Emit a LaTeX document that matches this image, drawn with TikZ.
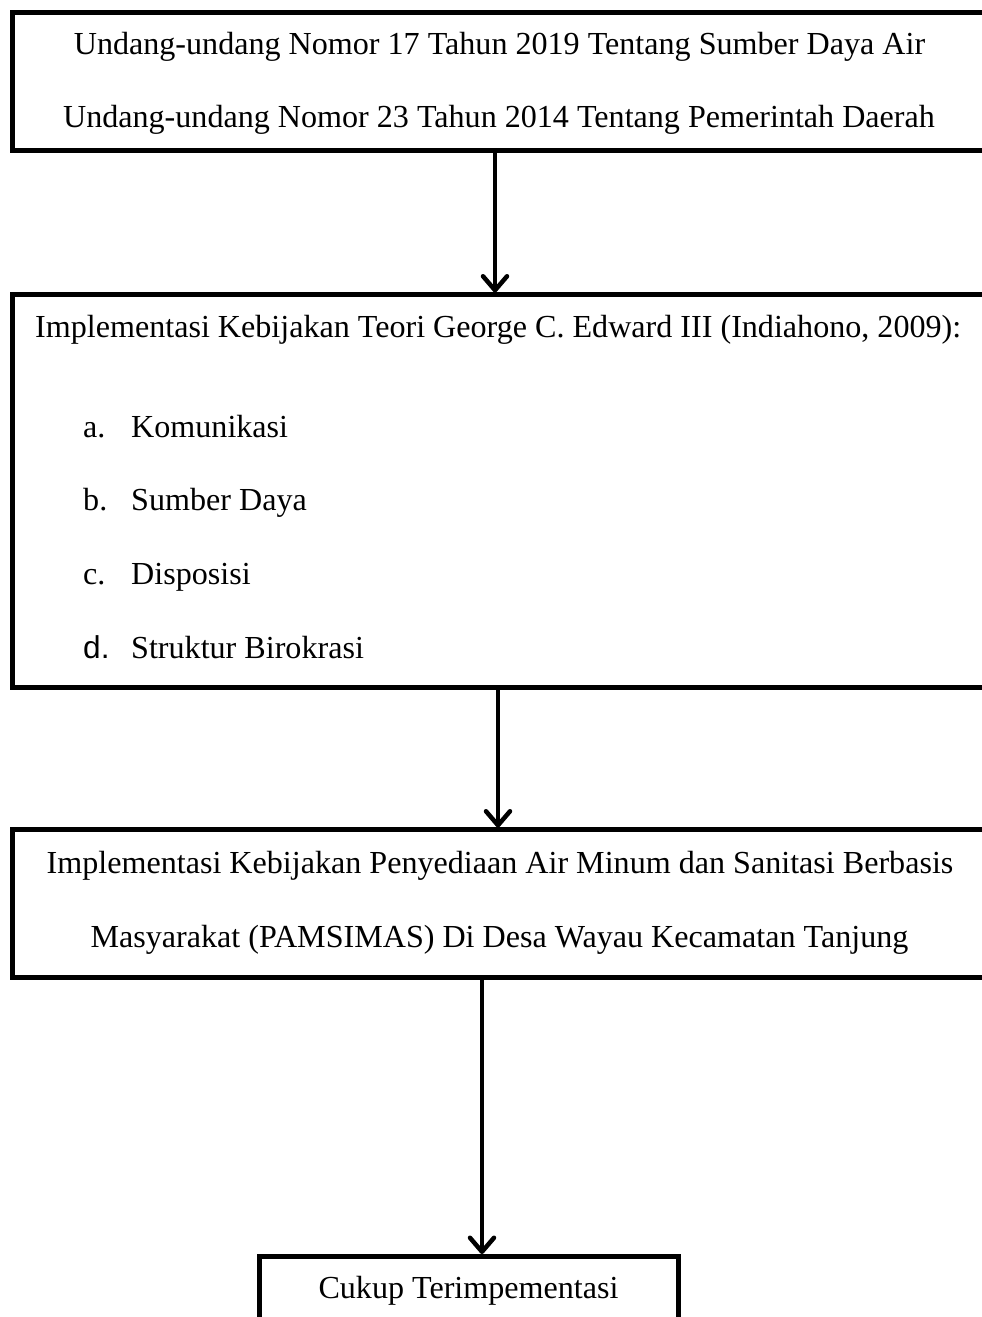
\documentclass[tikz,border=0pt]{standalone}
\usepackage{fontspec}
\setmainfont{Liberation Serif}
\newfontfamily\arialfont{Liberation Sans}
\usetikzlibrary{arrows.meta}
\begin{document}
\begin{tikzpicture}[x=1pt,y=-1pt,
  box/.style={draw=black,line width=5pt,outer sep=0pt,inner sep=0pt,anchor=north west},
  txt/.style={font=\fontsize{32.1}{38}\selectfont,inner sep=0pt,anchor=base},
  txtl/.style={txt,anchor=base west},
  arr/.style={line width=4.5pt,shorten >=2pt,-{Straight Barb[length=14pt,width=24pt,line cap=round,line join=round]}}
]
\useasboundingbox (0,0) rectangle (982,1317);
% boxes
\node[box,minimum width=980pt,minimum height=138.5pt] (b1) at (12,12) {};
\node[box,minimum width=980pt,minimum height=393pt] (b2) at (12.5,294.5) {};
\node[box,minimum width=980pt,minimum height=148pt] (b3) at (12.5,829.5) {};
\node[box,minimum width=419pt,minimum height=100pt] (b4) at (259,1256) {};
% texts
\node[txt] (t1a) at (499.5,54) {Undang-undang Nomor 17 Tahun 2019 Tentang Sumber Daya Air};
\node[txt] (t1b) at (499,127.3) {Undang-undang Nomor 23 Tahun 2014 Tentang Pemerintah Daerah};
\node[txtl] (t2) at (35,337) {Implementasi Kebijakan Teori George C. Edward III (Indiahono, 2009):};
\node[txtl] (la) at (83,437) {a.};
\node[txtl] (ia) at (131,437) {Komunikasi};
\node[txtl] (lb) at (83,510.7) {b.};
\node[txtl] (ib) at (131,510.7) {Sumber Daya};
\node[txtl] (lc) at (83,584.4) {c.};
\node[txtl] (ic) at (131,584.4) {Disposisi};
\node[txtl,font={\fontsize{31.6}{38}\selectfont\arialfont}] (ld) at (83,658) {d.};
\node[txtl] (id) at (131,658) {Struktur Birokrasi};
\node[txt] (t3a) at (500,873) {Implementasi Kebijakan Penyediaan Air Minum dan Sanitasi Berbasis};
\node[txt] (t3b) at (499.5,947) {Masyarakat (PAMSIMAS) Di Desa Wayau Kecamatan Tanjung};
\node[txt] (t4) at (468.5,1298) {Cukup Terimpementasi};
% connectors
\coordinate (x1) at (495,0);
\coordinate (x2) at (498,0);
\coordinate (x3) at (482,0);
\draw[arr] (x1 |- b1.south) -- (x1 |- b2.north);
\draw[arr] (x2 |- b2.south) -- (x2 |- b3.north);
\draw[arr] (x3 |- b3.south) -- (x3 |- b4.north);
\end{tikzpicture}
\end{document}
